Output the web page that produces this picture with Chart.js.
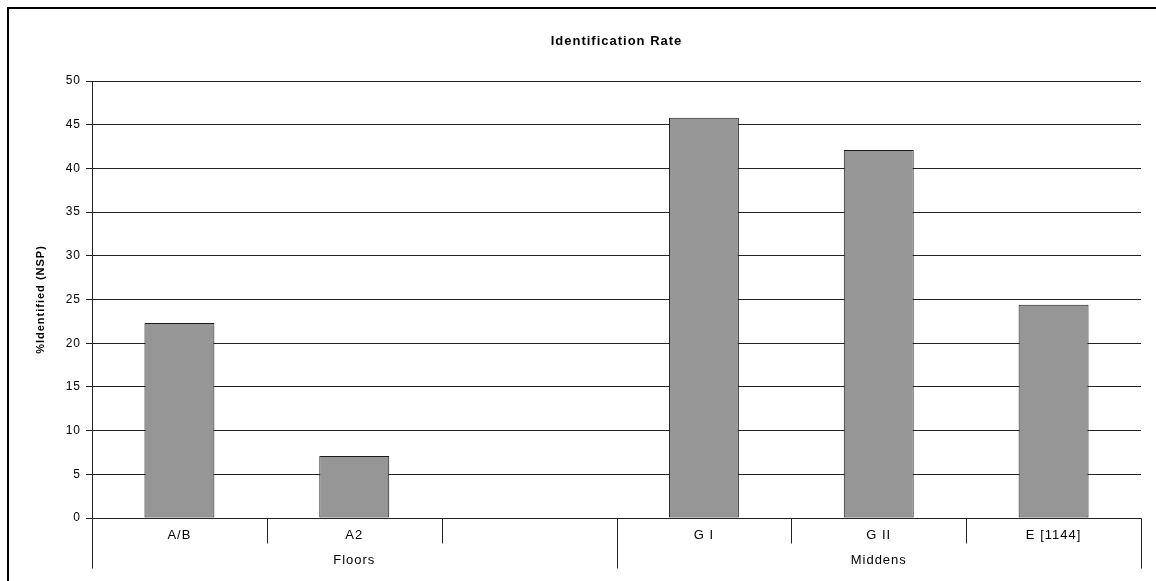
<!DOCTYPE html>
<html>
<head>
<meta charset="utf-8">
<script src="https://cdn.jsdelivr.net/npm/chart.js@4"></script>
<style>
  html, body { margin: 0; padding: 0; background: #fff; }
  #wrap { width: 1156px; height: 581px; }
</style>
</head>
<body>
<div id="wrap"><canvas id="rateChart" width="1156" height="581"></canvas></div>
<script>
const categories = ["A/B", "A2", "", "G I", "G II", "E [1144]"];
const groups = ["Floors", "Middens"];
const groupSpans = [3, 3];
const identified = [22.3, 7.1, null, 45.8, 42.1, 24.4];
const yTicks = [0, 5, 10, 15, 20, 25, 30, 35, 40, 45, 50];

const FONT = "Arial, 'Liberation Sans', sans-serif";

// draws the title, the two-level category axis and the frame round the picture
const axisPlugin = {
    id: "twoLevelAxis",
    beforeDraw(chart) {
        chart.ctx.letterSpacing = "1px"; // the original text is widely spaced
    },
    afterDraw(chart) {
        const ctx = chart.ctx;
        const area = chart.chartArea;
        const x = chart.scales.x;
        const n = categories.length;
        const cw = (area.right - area.left) / n;
        const base = Math.round(area.bottom) + 0.5;

        ctx.save();
        ctx.strokeStyle = "#222";
        ctx.lineWidth = 1;

        // small boundaries between categories
        for (let i = 0; i <= n; i++) {
            const px = Math.round(area.left + i * cw) + 0.5;
            ctx.beginPath();
            ctx.moveTo(px, base);
            ctx.lineTo(px, base + 25);
            ctx.stroke();
        }
        // long boundaries between groups
        let idx = 0;
        const edges = [0];
        groupSpans.forEach(s => { idx += s; edges.push(idx); });
        edges.forEach(e => {
            const px = Math.round(area.left + e * cw) + 0.5;
            ctx.beginPath();
            ctx.moveTo(px, base);
            ctx.lineTo(px, base + 50);
            ctx.stroke();
        });

        ctx.fillStyle = "#000";
        ctx.letterSpacing = "1px";
        ctx.font = "13px " + FONT;
        ctx.textAlign = "center";
        ctx.textBaseline = "middle";
        categories.forEach((c, i) => {
            ctx.fillText(c, x.getPixelForValue(i), base + 17);
        });
        groups.forEach((g, k) => {
            const a = area.left + edges[k] * cw;
            const b = area.left + edges[k + 1] * cw;
            ctx.fillText(g, (a + b) / 2, base + 42);
        });

        // chart title, centred over the plot area
        ctx.font = "bold 13px " + FONT;
        ctx.fillText("Identification Rate", (area.left + area.right) / 2, 41);

        // outer frame, running off the right and bottom edges
        ctx.strokeStyle = "#000";
        ctx.lineWidth = 2;
        ctx.strokeRect(8, 8, chart.width + 20, chart.height + 20);
        ctx.restore();
    }
};

new Chart(document.getElementById("rateChart").getContext("2d"), {
    type: "bar",
    data: {
        labels: categories,
        datasets: [{
            label: "%Identified (NSP)",
            data: identified,
            backgroundColor: "#969696",
            borderColor: "#1a1a1a",
            borderWidth: 1,
            borderSkipped: false,
            barPercentage: 0.4,
            categoryPercentage: 1
        }]
    },
    options: {
        responsive: false,
        animation: false,
        devicePixelRatio: 1,
        layout: {
            padding: { left: 0, top: 81, right: 15, bottom: 63 }
        },
        scales: {
            x: {
                display: false
            },
            y: {
                min: 0,
                max: 50,
                afterFit: function (scale) { scale.width = 92; },
                afterBuildTicks: function (scale) {
                    scale.ticks = yTicks.map(v => ({ value: v }));
                },
                ticks: {
                    color: "#000",
                    padding: 5,
                    font: { family: FONT, size: 12 }
                },
                grid: {
                    color: "#222",
                    lineWidth: 1,
                    tickLength: 6
                },
                border: { display: true, color: "#222", width: 1 },
                title: {
                    display: true,
                    text: "%Identified (NSP)",
                    color: "#000",
                    padding: { top: 34, bottom: 0 },
                    font: { family: FONT, size: 11, weight: "bold" }
                }
            }
        },
        plugins: {
            legend: { display: false },
            tooltip: { enabled: false },
            title: { display: false }
        }
    },
    plugins: [axisPlugin]
});
</script>
</body>
</html>
